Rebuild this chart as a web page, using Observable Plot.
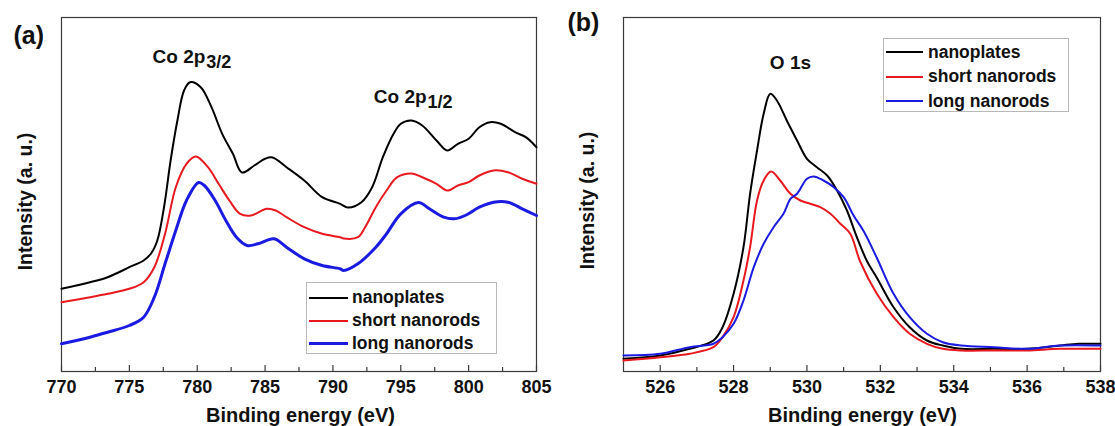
<!DOCTYPE html>
<html>
<head>
<meta charset="utf-8">
<script src="https://cdn.jsdelivr.net/npm/d3@7"></script>
<script src="https://cdn.jsdelivr.net/npm/@observablehq/plot@0.6"></script>
<style>
  html, body { margin: 0; padding: 0; background: #fff; }
  body { font-family: "Liberation Sans", Arial, sans-serif; }
  #wrap { position: relative; width: 1115px; height: 426px; overflow: hidden; }
  .panel { position: absolute; top: 0; }
  .legend { position: absolute; box-sizing: border-box; border: 1px solid #b8b8b8; background: #fff;
            font-weight: bold; color: #111; }
  .legend .row { display: flex; align-items: center; white-space: nowrap; }
  .legend .sw { display: inline-block; }
</style>
</head>
<body>
<div id="wrap"></div>
<script>
// ---------- data ----------
const seriesNames = ["nanoplates", "short nanorods", "long nanorods"];
const seriesColors = ["#000000", "#e8191e", "#1a1ae0"];

// Panel (a): Co 2p
const aEnergyNanoplates = [770.0,772.1,773.4,775.0,776.05,776.6,777.06,777.55,778.04,778.54,779.03,779.47,780.26,781.05,781.84,782.63,783.3,784.21,785.0,785.55,786.58,787.89,789.21,790.53,791.1,792.1,792.89,793.68,794.47,795.0,795.79,796.58,797.63,798.42,799.21,800.0,800.79,801.58,802.37,803.42,804.21,805.0];
const aIntensityNanoplates = [82.7,89.3,94.3,104.3,111,118,131,164,211,251,281,289.3,284.3,264.3,237.7,217.7,199,206,212.7,214,204.3,191,174.3,167.7,164,169.3,184.3,214.3,237.7,247.7,251,246,231,221,227.7,232.7,244.3,249.3,247.7,239.3,234.3,224.3];

const aEnergyShort = [770.0,772.1,773.4,775.0,776.05,776.84,777.63,778.42,779.21,779.9,780.79,781.58,782.37,783.16,783.95,785.13,785.79,786.58,787.89,789.21,790.53,790.8,791.84,792.37,793.16,793.95,794.74,795.8,796.58,797.63,798.42,799.21,800.0,800.79,801.84,802.89,803.95,805.0];
const aIntensityShort = [69.3,74.3,77.7,82.7,89.3,104.3,137.7,184.3,207.7,215,204.3,187.7,171,157.7,156,162.7,161,154.3,144.3,137.7,134.3,133,134.3,144.3,164.3,181,194.3,198,194.3,187.7,181,186,189.3,196,201,199.3,192.7,187.7];

const aEnergyLong = [770.0,772.1,773.4,775.0,776.05,776.84,777.63,778.42,779.21,780.1,780.53,781.32,782.11,782.89,783.68,784.47,785.66,786.58,787.89,789.21,790.53,790.79,791.84,793.16,793.95,795.0,796.3,797.11,798.16,798.95,799.74,800.79,801.84,802.89,803.95,805.0];
const aIntensityLong = [27.7,34.3,39.3,46,54.3,74.3,107.7,141,171,189,186,171,151,134.3,126,127.7,132.7,124.3,112.7,106,102.7,101,107.7,124.3,137.7,157.7,169,162.7,154.3,152.7,156,164.3,169.3,169.3,162.7,156];

const aMajorTicks = [770, 775, 780, 785, 790, 795, 800, 805];
const aMinorTicks = [772.5, 777.5, 782.5, 787.5, 792.5, 797.5, 802.5];

// Panel (b): O 1s
const bEnergyNanoplates = [525.0,526,526.8,527.45,527.7,528.0,528.27,528.45,528.64,528.82,529.0,529.18,529.45,529.73,530.0,530.27,530.55,530.82,531.09,531.36,531.64,531.9,532.36,532.8,533.27,533.7,534.2,535.1,536.0,536.9,537.4,538.0];
const bIntensityNanoplates = [12.7,16,22.7,31,44.3,77.7,124.3,177.7,221,257.7,277.7,271,251,231,212.7,204.3,196,181,161,134.3,110,94,64.3,44.3,31,26,22.7,22.7,22.7,26,27.7,27.7];

const bEnergyShort = [525.0,526,526.8,527.45,527.7,528.0,528.27,528.45,528.64,528.82,529.02,529.27,529.55,529.82,530.09,530.36,530.64,530.91,531.18,531.45,531.9,532.36,532.8,533.27,533.7,534.2,535.1,536.0,536.9,538.0];
const bIntensityShort = [11,14.3,17.7,24.3,34.3,54.3,91,124.3,171,191,200,191,177.7,171,167.7,164.3,157.7,147.7,137.7,110,78,54.3,37.7,27.7,22.7,21,21,21,22.7,22.7];

const bEnergyLong = [525.0,526,526.8,527.45,527.7,528.0,528.27,528.55,528.82,529.09,529.36,529.55,529.73,530.0,530.18,530.45,530.73,531.0,531.27,531.55,531.9,532.36,532.8,533.27,533.7,534.2,535.1,536.0,536.9,538.0];
const bIntensityLong = [16,17.7,24.3,27.7,34.3,47.7,71,104.3,127.7,144.3,157.7,172.7,177.7,192.7,195,191,184.3,174.3,156,140,114,77.7,54.3,37.7,29.3,26,24.3,22.7,26,26];

const bMajorTicks = [526, 528, 530, 532, 534, 536, 538];
const bMinorTicks = [527, 529, 531, 533, 535, 537];

const xTitle = "Binding energy (eV)";
const yTitle = "Intensity (a. u.)";

// ---------- build tables ----------
function table(pairs) {
  const rows = [];
  pairs.forEach(([name, es, is]) => es.forEach((e, k) => rows.push({series: name, energy: e, intensity: is[k]})));
  return rows;
}
const tableA = table([
  [seriesNames[0], aEnergyNanoplates, aIntensityNanoplates],
  [seriesNames[1], aEnergyShort, aIntensityShort],
  [seriesNames[2], aEnergyLong, aIntensityLong]
]);
const tableB = table([
  [seriesNames[0], bEnergyNanoplates, bIntensityNanoplates],
  [seriesNames[1], bEnergyShort, bIntensityShort],
  [seriesNames[2], bEnergyLong, bIntensityLong]
]);

const FONT = "Liberation Sans, Arial, sans-serif";
const frameH = 354;

function panel({data, domain, major, minor, widths, W, mL, mR, letter, letterDx, letterDy, yDx, yDy, xDx, annotations}) {
  const marks = [
    Plot.frame({stroke: "#3a3a3a", strokeWidth: 1.2}),
    Plot.tickX(major, {x: d => d, insetTop: frameH - 6, stroke: "#3a3a3a", strokeWidth: 1.2}),
    Plot.tickX(minor, {x: d => d, insetTop: frameH - 4, stroke: "#3a3a3a", strokeWidth: 1.2}),
    Plot.axisX(major, {tickSize: 0, tickPadding: 9, tickFormat: "d", fontSize: 18, fontWeight: "bold", label: null}),
    ...seriesNames.map((s, i) => Plot.line(data.filter(d => d.series === s), {
      x: "energy", y: "intensity", stroke: seriesColors[i], strokeWidth: widths[i],
      strokeLinejoin: "round", curve: "catmull-rom"
    })),
    Plot.text([xTitle], {frameAnchor: "bottom", lineAnchor: "bottom", dy: 50, dx: xDx, fontSize: 20, fontWeight: "bold"}),
    Plot.text([yTitle], {frameAnchor: "left", rotate: -90, textAnchor: "middle", lineAnchor: "middle", dx: yDx, dy: yDy, fontSize: 19.5, fontWeight: "bold"}),
    Plot.text([letter], {frameAnchor: "top-left", textAnchor: "start", lineAnchor: "middle", dx: letterDx, dy: letterDy, fontSize: 25, fontWeight: "bold"})
  ];
  annotations.forEach(a => {
    marks.push(Plot.text([a.main], {x: () => a.x, y: () => a.y, textAnchor: a.sub ? "end" : "middle", lineAnchor: "bottom", fontSize: 19, fontWeight: "bold"}));
    if (a.sub) marks.push(Plot.text([a.sub], {x: () => a.x, y: () => a.y, textAnchor: "start", lineAnchor: "bottom", dx: 1, dy: 5, fontSize: 18, fontWeight: "bold"}));
  });
  return Plot.plot({
    width: W, height: 426,
    marginLeft: mL, marginRight: mR, marginTop: 17, marginBottom: 55,
    x: {domain, axis: null},
    y: {domain: [0, frameH], axis: null},
    style: {fontFamily: FONT, color: "#111", background: "transparent", overflow: "visible"},
    marks
  });
}

// annotation anchors (energy, intensity)
const annA = [
  {main: "Co 2p", sub: "3/2", x: 780.6, y: 309},
  {main: "Co 2p", sub: "1/2", x: 796.9, y: 269}
];
const annB = [
  {main: "O 1s", sub: null, x: 529.55, y: 303}
];

const wrap = document.getElementById("wrap");

const pa = panel({data: tableA, domain: [770, 805], major: aMajorTicks, minor: aMinorTicks, widths: [2, 2, 3],
  W: 557, mL: 61, mR: 21, letter: "(a)", letterDx: -48, letterDy: 18, yDx: -36, yDy: 7, xDx: 1.5, annotations: annA});
pa.classList.add("panel"); pa.style.left = "0px";
wrap.appendChild(pa);

const pb = panel({data: tableB, domain: [525, 538], major: bMajorTicks, minor: bMinorTicks, widths: [2, 2, 2],
  W: 555, mL: 63, mR: 15, letter: "(b)", letterDx: -56, letterDy: 5, yDx: -36, yDy: 6, xDx: 0.5, annotations: annB});
pb.classList.add("panel"); pb.style.left = "560px";
wrap.appendChild(pb);

// ---------- legends ----------
function legend({left, top, width, height, rowH, padTop, padLeft, swW, gap, fontSize, widths}) {
  const box = document.createElement("div");
  box.className = "legend";
  Object.assign(box.style, {left: left + "px", top: top + "px", width: width + "px", height: height + "px",
    paddingTop: padTop + "px", paddingLeft: padLeft + "px", fontSize: fontSize + "px"});
  seriesNames.forEach((s, i) => {
    const row = document.createElement("div");
    row.className = "row";
    row.style.height = rowH + "px";
    const sw = document.createElement("span");
    sw.className = "sw";
    Object.assign(sw.style, {width: swW + "px", height: widths[i] + "px", background: seriesColors[i], marginRight: gap + "px"});
    const t = document.createElement("span");
    t.textContent = s;
    row.appendChild(sw); row.appendChild(t);
    box.appendChild(row);
  });
  wrap.appendChild(box);
}
legend({left: 306, top: 282, width: 191, height: 72, rowH: 23, padTop: 3, padLeft: 2, swW: 39, gap: 4, fontSize: 17.5, widths: [2, 2, 3]});
legend({left: 883, top: 38, width: 186, height: 74, rowH: 24.5, padTop: 1, padLeft: 2, swW: 37, gap: 5, fontSize: 17.5, widths: [2, 2, 2]});
</script>
</body>
</html>
